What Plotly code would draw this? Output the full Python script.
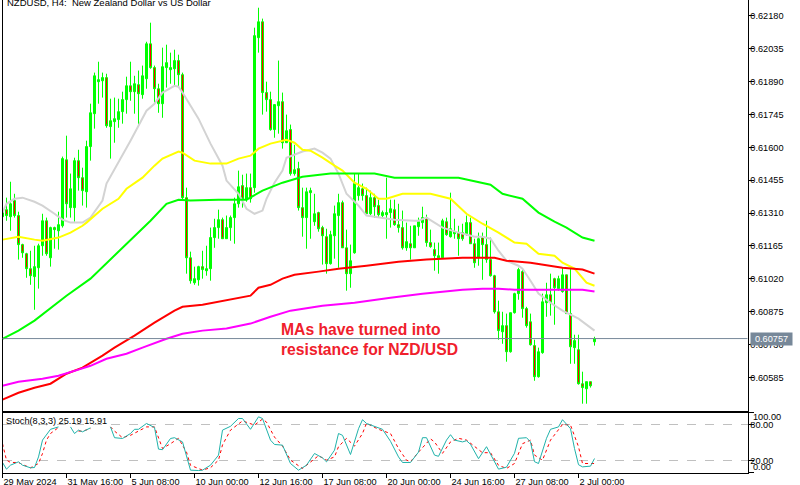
import numpy as np
import plotly.graph_objects as go

# prices are in points (1 point = 0.00001), one candle every 4 hours
opens = [61294, 61325, 61294, 61365, 61299, 61171, 61131, 61065, 61030, 61069, 61166, 61276, 61113, 61246, 61232, 61254,
         61545, 61334, 61334, 61541, 61466, 61404, 61603, 61748, 61889, 61893, 61907, 61691, 61713, 61722, 61757, 61810,
         61871, 61845, 61876, 61832, 61902, 62056, 61951, 61858, 61792, 61951, 61942, 61946, 61982, 61920, 61378, 61113,
         61003, 61016, 61074, 61056, 61065, 61202, 61246, 61281, 61197, 61246, 61290, 61351, 61431, 61369, 61422, 61422,
         62083, 62153, 61841, 61810, 61678, 61783, 61801, 61620, 61678, 61484, 61506, 61334, 61290, 61400, 61272, 61312,
         61246, 61206, 61087, 61210, 61299, 61356, 61157, 61043, 61135, 61387, 61417, 61387, 61307, 61378, 61343, 61299,
         61303, 61312, 61325, 61259, 61246, 61157, 61175, 61157, 61250, 61268, 61290, 61180, 61149, 61113, 61113, 61272,
         61206, 61219, 61224, 61224, 61219, 61268, 61175, 61113, 61202, 61171, 61105, 61034, 60875, 60787, 60814, 60699,
         60871, 60955, 61052, 60889, 60831, 60726, 60589, 60695, 60915, 60950, 61021, 60977, 60964, 61038, 60867, 60717,
         60708, 60558, 60536, 60567, 60743]
highs = [61382, 61378, 61448, 61395, 61316, 61175, 61135, 61144, 61166, 61175, 61307, 61290, 61250, 61250, 61316, 61559,
         61651, 61484, 61554, 61589, 61510, 61629, 61792, 61929, 61977, 61929, 61924, 61814, 61819, 61814, 61845, 61911,
         61977, 61915, 61938, 61960, 62065, 62149, 61960, 61880, 62039, 62052, 62017, 62030, 62008, 61929, 61422, 61140,
         61074, 61078, 61144, 61166, 61246, 61285, 61325, 61290, 61299, 61299, 61378, 61497, 61479, 61484, 61484, 62127,
         62215, 62167, 61889, 61845, 61788, 61982, 61841, 61744, 61700, 61611, 61536, 61422, 61422, 61422, 61395, 61316,
         61254, 61241, 61232, 61343, 61395, 61365, 61237, 61171, 61484, 61484, 61440, 61422, 61409, 61395, 61369, 61321,
         61466, 61369, 61369, 61351, 61321, 61268, 61254, 61254, 61290, 61338, 61303, 61237, 61180, 61180, 61285, 61290,
         61400, 61285, 61254, 61263, 61299, 61290, 61197, 61224, 61224, 61276, 61202, 61038, 60924, 60875, 60867, 60871,
         60959, 61069, 61065, 60897, 60867, 60752, 60717, 60955, 61003, 61043, 61025, 61034, 61069, 61038, 61065, 60774,
         60774, 60611, 60567, 60567, 60765]
lows = [61334, 61276, 61232, 61290, 61105, 61113, 61025, 60994, 60884, 60977, 61122, 61122, 61074, 61153, 61149, 61246,
        61290, 61290, 61272, 61409, 61343, 61334, 61541, 61682, 61792, 61819, 61686, 61550, 61620, 61686, 61704, 61748,
        61805, 61748, 61700, 61814, 61858, 61946, 61796, 61752, 61730, 61863, 61880, 61871, 61867, 61365, 61043, 60999,
        60994, 60990, 61021, 61034, 61012, 61157, 61197, 61197, 61197, 61188, 61175, 61334, 61334, 61360, 61356, 61400,
        62017, 61744, 61757, 61673, 61642, 61660, 61594, 61620, 61475, 61475, 61321, 61206, 61153, 61197, 61254, 61228,
        61083, 61043, 61083, 61109, 61069, 61157, 60968, 60981, 61131, 61365, 61365, 61307, 61299, 61290, 61290, 61285,
        61197, 61246, 61254, 61224, 61149, 61144, 61105, 61157, 61210, 61241, 61162, 61157, 61056, 61043, 61113, 61210,
        61202, 61197, 61122, 61188, 61210, 61175, 61069, 61078, 61016, 61091, 61030, 60867, 60752, 60734, 60655, 60695,
        60867, 60928, 60849, 60805, 60726, 60571, 60585, 60690, 60853, 60858, 60818, 60968, 60959, 60867, 60646, 60646,
        60554, 60470, 60470, 60541, 60726]
closes = [61312, 61299, 61351, 61299, 61171, 61135, 61065, 61034, 61074, 61166, 61276, 61131, 61246, 61237, 61259, 61550,
          61351, 61417, 61541, 61466, 61409, 61603, 61752, 61915, 61898, 61907, 61695, 61717, 61726, 61757, 61810, 61871,
          61845, 61880, 61836, 61915, 62056, 61951, 61858, 61792, 61955, 61973, 61951, 61982, 61920, 61378, 61113, 61012,
          61021, 61074, 61061, 61065, 61202, 61246, 61281, 61197, 61246, 61290, 61351, 61426, 61373, 61422, 61373, 62092,
          62153, 61841, 61810, 61678, 61788, 61801, 61620, 61673, 61484, 61501, 61334, 61290, 61404, 61409, 61307, 61241,
          61210, 61087, 61215, 61307, 61356, 61157, 61043, 61100, 61440, 61422, 61387, 61307, 61378, 61338, 61303, 61312,
          61312, 61329, 61259, 61246, 61157, 61184, 61157, 61254, 61272, 61290, 61180, 61162, 61122, 61122, 61276, 61215,
          61241, 61228, 61197, 61197, 61268, 61175, 61091, 61197, 61171, 61105, 61034, 60875, 60792, 60814, 60699, 60871,
          60955, 61061, 60889, 60814, 60730, 60589, 60699, 60919, 60950, 60915, 60981, 61021, 61038, 60867, 60721, 60748,
          60558, 60541, 60567, 60549, 60757]
candle_idx = list(range(len(opens)))

ma_gray_idx = [0, 1, 3, 5, 8, 10, 13, 15, 17, 20, 22, 25, 26, 29, 32, 34, 36, 38, 40, 43, 44, 45, 49, 52, 55, 56, 59, 61, 63,
               65, 66, 68, 70, 71, 73, 75, 78, 80, 82, 84, 86, 89, 91, 94, 98, 103, 104, 106, 110, 114, 118, 120, 122, 124,
               126, 129, 130, 132, 134, 137, 140, 144, 148]
ma_gray = [61312, 61351, 61373, 61378, 61360, 61343, 61307, 61281, 61268, 61268, 61290, 61365, 61440, 61532, 61629, 61695,
           61761, 61792, 61841, 61871, 61867, 61841, 61726, 61616, 61519, 61453, 61395, 61329, 61307, 61321, 61373, 61444,
           61497, 61554, 61567, 61581, 61594, 61576, 61550, 61484, 61395, 61343, 61299, 61290, 61281, 61276, 61276, 61290,
           61246, 61224, 61206, 61206, 61197, 61144, 61100, 61078, 61065, 61012, 60955, 60915, 60880, 60845, 60792]
ma_yellow_idx = [0, 4, 8, 10, 14, 17, 20, 21, 25, 29, 31, 35, 38, 40, 44, 45, 48, 52, 56, 59, 62, 64, 67, 71, 73, 75, 77, 80,
                 83, 85, 88, 91, 94, 96, 100, 107, 112, 116, 120, 124, 128, 131, 134, 138, 140, 143, 146, 148]
ma_yellow = [61193, 61206, 61193, 61188, 61202, 61224, 61254, 61268, 61329, 61373, 61417, 61466, 61519, 61550, 61581, 61576,
             61541, 61528, 61528, 61550, 61563, 61594, 61616, 61633, 61620, 61589, 61585, 61554, 61519, 61497, 61444, 61417,
             61373, 61373, 61395, 61395, 61373, 61307, 61263, 61224, 61180, 61175, 61131, 61122, 61091, 61065, 61003, 60990]
ma_green_idx = [0, 4, 8, 12, 16, 22, 28, 33, 37, 41, 44, 47, 54, 61, 65, 70, 75, 82, 93, 98, 106, 114, 122, 125, 130, 134,
                138, 141, 145, 148]
ma_green = [60756, 60792, 60836, 60889, 60946, 61021, 61122, 61206, 61276, 61351, 61369, 61365, 61369, 61369, 61409, 61444,
            61470, 61484, 61484, 61466, 61466, 61466, 61435, 61395, 61373, 61312, 61272, 61246, 61202, 61188]
ma_red_idx = [0, 4, 8, 12, 16, 20, 25, 28, 33, 38, 43, 45, 50, 55, 62, 64, 67, 70, 73, 79, 84, 91, 99, 106, 115, 123, 126,
              132, 140, 145, 148]
ma_red = [60488, 60518, 60540, 60558, 60602, 60629, 60682, 60717, 60770, 60827, 60880, 60897, 60906, 60924, 60946, 60981,
          60994, 61021, 61038, 61052, 61065, 61078, 61096, 61105, 61113, 61113, 61100, 61091, 61069, 61061, 61043]
ma_magenta_idx = [0, 4, 10, 14, 19, 22, 26, 31, 35, 41, 45, 50, 56, 62, 67, 72, 80, 88, 97, 105, 115, 120, 124, 128, 145, 148]
ma_magenta = [60549, 60567, 60580, 60593, 60620, 60637, 60668, 60690, 60717, 60756, 60778, 60792, 60801, 60823, 60853, 60880,
              60902, 60915, 60937, 60955, 60972, 60977, 60977, 60972, 60972, 60964]

# stochastic, None where the line is missing in the picture
stoch_k_idx = [0, 1, 2, 4, 5, 7, 8, 9, 10, 12, 14, 15, 17, 18, 19, 20, 22, 24, 27, 28, 30, 32, 33, 34, 36, 38, 39, 40, 42, 43,
               45, 47, 49, 50, 52, 54, 55, 57, 59, 60, 62, 64, 65, 67, 68, 70, 72, 74, 76, 78, 80, 81, 83, 84, 85, 87, 89,
               90, 91, 95, 97, 99, 100, 102, 104, 105, 106, 108, 109, 111, 112, 113, 115, 116, 117, 119, 121, 124, 126, 128,
               129, 131, 132, 133, 134, 136, 137, 139, 140, 142, 143, 144, 145, 147, 148]
stoch_k = [16.7, 5.6, 12.2, 17.8, 12.2, 7.8, 8.3, 26, 54, 72, 76, None, 76, 65, 70.6, 67.8, 74.4, None, 76, 58, 56.7, 65, 72,
           72, 81.7, 75, 39, 38, 56.7, 58, 51, 3.9, 3.3, 3.9, 12.2, 28.9, 70.6, 77, 90, 90, 72, 92.8, 90, 53.9, 46.7, 45.6,
           15, 3.9, 12.2, 31.7, 24.4, 17.8, 37.2, 65, 62, 30, 73, 88, 81.7, 72, 52, 26, 16.7, 16.7, 34, 58, 58, 29, 27, 54,
           63, 54, 51, 53, 47, 23, 43, 5.6, 8.9, 32, 57, 58, 51, 18, 15, 57, 72, 76, 88, 73, 40, 13, 9.4, 10.6, 23.3]
stoch_d_idx = [0, 1, 2, 4, 5, 7, 9, 10, 11, 12, 14, 15, 19, 20, 22, 24, 27, 28, 30, 32, 34, 36, 38, 40, 42, 44, 46, 47, 50, 52,
               54, 55, 57, 60, 63, 65, 66, 68, 70, 72, 75, 77, 79, 81, 83, 84, 86, 88, 90, 91, 94, 97, 99, 101, 102, 104,
               107, 108, 110, 112, 114, 116, 118, 120, 122, 124, 126, 128, 130, 132, 133, 135, 137, 140, 142, 144, 145, 148]
stoch_d = [48, 20.6, 16.7, 16.7, 13.3, 7.8, 15, 31.7, 54, 65, 75, None, 69, 69, 73, None, 76, 69, 58, 62, 69, 76, 76, 40, 48,
           57, 34, 12, 4, 8, 20.6, 46, 70.6, 86, 79, 89, 84, 59, 44, 20.6, 6.7, 16.7, 28, 20.6, 26, 43, 57, 44, 65, 82, 72,
           65, 40, 20.6, 18, 34, 56, 51, 32, 51, 57, 54, 43, 33, 33, 12, 6.7, 15, 48, 54, 29, 20.6, 54, 80, 79, 43, 15, 15]

last_price = 0.60757

price_ticks = [0.62180, 0.62035, 0.61890, 0.61745, 0.61600, 0.61455, 0.61310, 0.61165, 0.61020, 0.60875, 0.60730, 0.60585]
time_tick_idx = [0, 16, 32, 48, 64, 80, 96, 112, 128, 144]
time_ticks = ['29 May 2024', '31 May 16:00', '5 Jun 08:00', '10 Jun 00:00', '12 Jun 16:00',
              '17 Jun 08:00', '20 Jun 00:00', '24 Jun 16:00', '27 Jun 08:00', '2 Jul 00:00']

FONT = 'Liberation Sans'


def pts(a):
    return np.array(a) / 100000


def ma_line(idx, vals, color):
    return go.Scatter(x=idx, y=pts(vals), mode='lines', line=dict(color=color, width=2),
                      hoverinfo='skip', showlegend=False)


data = [go.Candlestick(x=candle_idx, open=pts(opens), high=pts(highs), low=pts(lows), close=pts(closes),
                       increasing=dict(line=dict(color='#00ff00', width=1), fillcolor='#00ff00'),
                       decreasing=dict(line=dict(color='#00ff00', width=1), fillcolor='#ff0000'),
                       whiskerwidth=0, showlegend=False),
        ma_line(ma_gray_idx, ma_gray, '#d3d3d3'),
        ma_line(ma_yellow_idx, ma_yellow, '#ffff00'),
        ma_line(ma_green_idx, ma_green, '#00ff00'),
        ma_line(ma_red_idx, ma_red, '#ff0000'),
        ma_line(ma_magenta_idx, ma_magenta, '#ff00ff'),
        go.Scatter(x=stoch_d_idx, y=stoch_d, xaxis='x2', yaxis='y2', mode='lines',
                   line=dict(color='#ff0000', width=1, dash='dot'), showlegend=False),
        go.Scatter(x=stoch_k_idx, y=stoch_k, xaxis='x2', yaxis='y2', mode='lines',
                   line=dict(color='#20b2aa', width=1), showlegend=False)]

fig = go.Figure(data=data)

tick_font = dict(family=FONT, size=9.2, color='black')
x_range = [0, 186.25]  # 4 px per candle
x_domain = [2.5 / 800, 747.5 / 800]

fig.update_layout(
    width=800, height=485,
    margin=dict(l=0, r=0, t=0, b=0),
    paper_bgcolor='white', plot_bgcolor='white',
    boxgap=0.5, boxgroupgap=0,
    xaxis=dict(domain=x_domain, range=x_range, anchor='y', showgrid=False, zeroline=False, automargin=False,
               showticklabels=False, ticks='', rangeslider=dict(visible=False),
               showline=True, linecolor='black', linewidth=1),
    yaxis=dict(domain=[74.5 / 485, 1], range=[0.60440, 0.62249], side='right', showgrid=False, zeroline=False,
               automargin=False, tickmode='array', tickvals=price_ticks, tickformat='.5f', ticks='outside', ticklen=5,
               ticklabelstandoff=-5, tickcolor='black', tickfont=tick_font,
               showline=True, linecolor='black', linewidth=1, mirror=True),
    xaxis2=dict(domain=x_domain, range=x_range, anchor='y2', showgrid=False, zeroline=False, automargin=False,
                tickmode='array', tickvals=time_tick_idx, ticktext=time_ticks, ticks='outside', ticklen=4, tickangle=0,
                ticklabelposition='outside right', tickcolor='black', tickfont=tick_font,
                showline=True, linecolor='black', linewidth=1, mirror=True),
    yaxis2=dict(domain=[12.5 / 485, 72.5 / 485], range=[0, 100], side='right', zeroline=False, automargin=False,
                tickmode='array', tickvals=[0, 20, 80, 100], ticktext=['', '20.00', '80.00', ''],
                ticks='outside', ticklen=5, ticklabelstandoff=-5, tickcolor='black', tickfont=tick_font,
                showgrid=True, gridcolor='#c0c0c0', griddash='dash', gridwidth=1,
                showline=True, linecolor='black', linewidth=1, mirror=True),
    shapes=[dict(type='line', xref='x domain', yref='y', x0=0, x1=1, y0=last_price, y1=last_price,
                 line=dict(color='#778899', width=1))],
    annotations=[
        dict(text='NZDUSD, H4:  New Zealand Dollar vs US Dollar', xref='paper', yref='paper', x=5 / 800, y=1 + 5 / 485,
             xanchor='left', yanchor='top', showarrow=False, font=dict(family=FONT, size=9.5, color='black')),
        dict(text='Stoch(8,3,3) 25.19 15.91', xref='paper', yref='paper', x=4 / 800, y=64 / 485,
             xanchor='left', yanchor='middle', showarrow=False, font=dict(family=FONT, size=9.2, color='black')),
        dict(text='<b>MAs have turned into<br>resistance for NZD/USD</b>', xref='x', yref='y', x=69, y=0.60842,
             xanchor='left', yanchor='top', align='left', showarrow=False,
             font=dict(family=FONT, size=15.7, color='#f0202c')),
        dict(text='{:.5f}'.format(last_price), xref='paper', yref='y', x=750 / 800, y=last_price,
             xanchor='left', yanchor='middle', showarrow=False, bgcolor='#778899', width=39, height=10,
             font=dict(family=FONT, size=9.2, color='white')),
        dict(text='100.00', xref='paper', yref='y2', x=751 / 800, y=92, xanchor='left', yanchor='middle',
             showarrow=False, font=tick_font),
        dict(text='0.00', xref='paper', yref='y2', x=751 / 800, y=10, xanchor='left', yanchor='middle',
             showarrow=False, font=tick_font),
    ],
)

fig.write_html('out.html', config=dict(displayModeBar=False), post_script="document.body.style.margin='0';")
